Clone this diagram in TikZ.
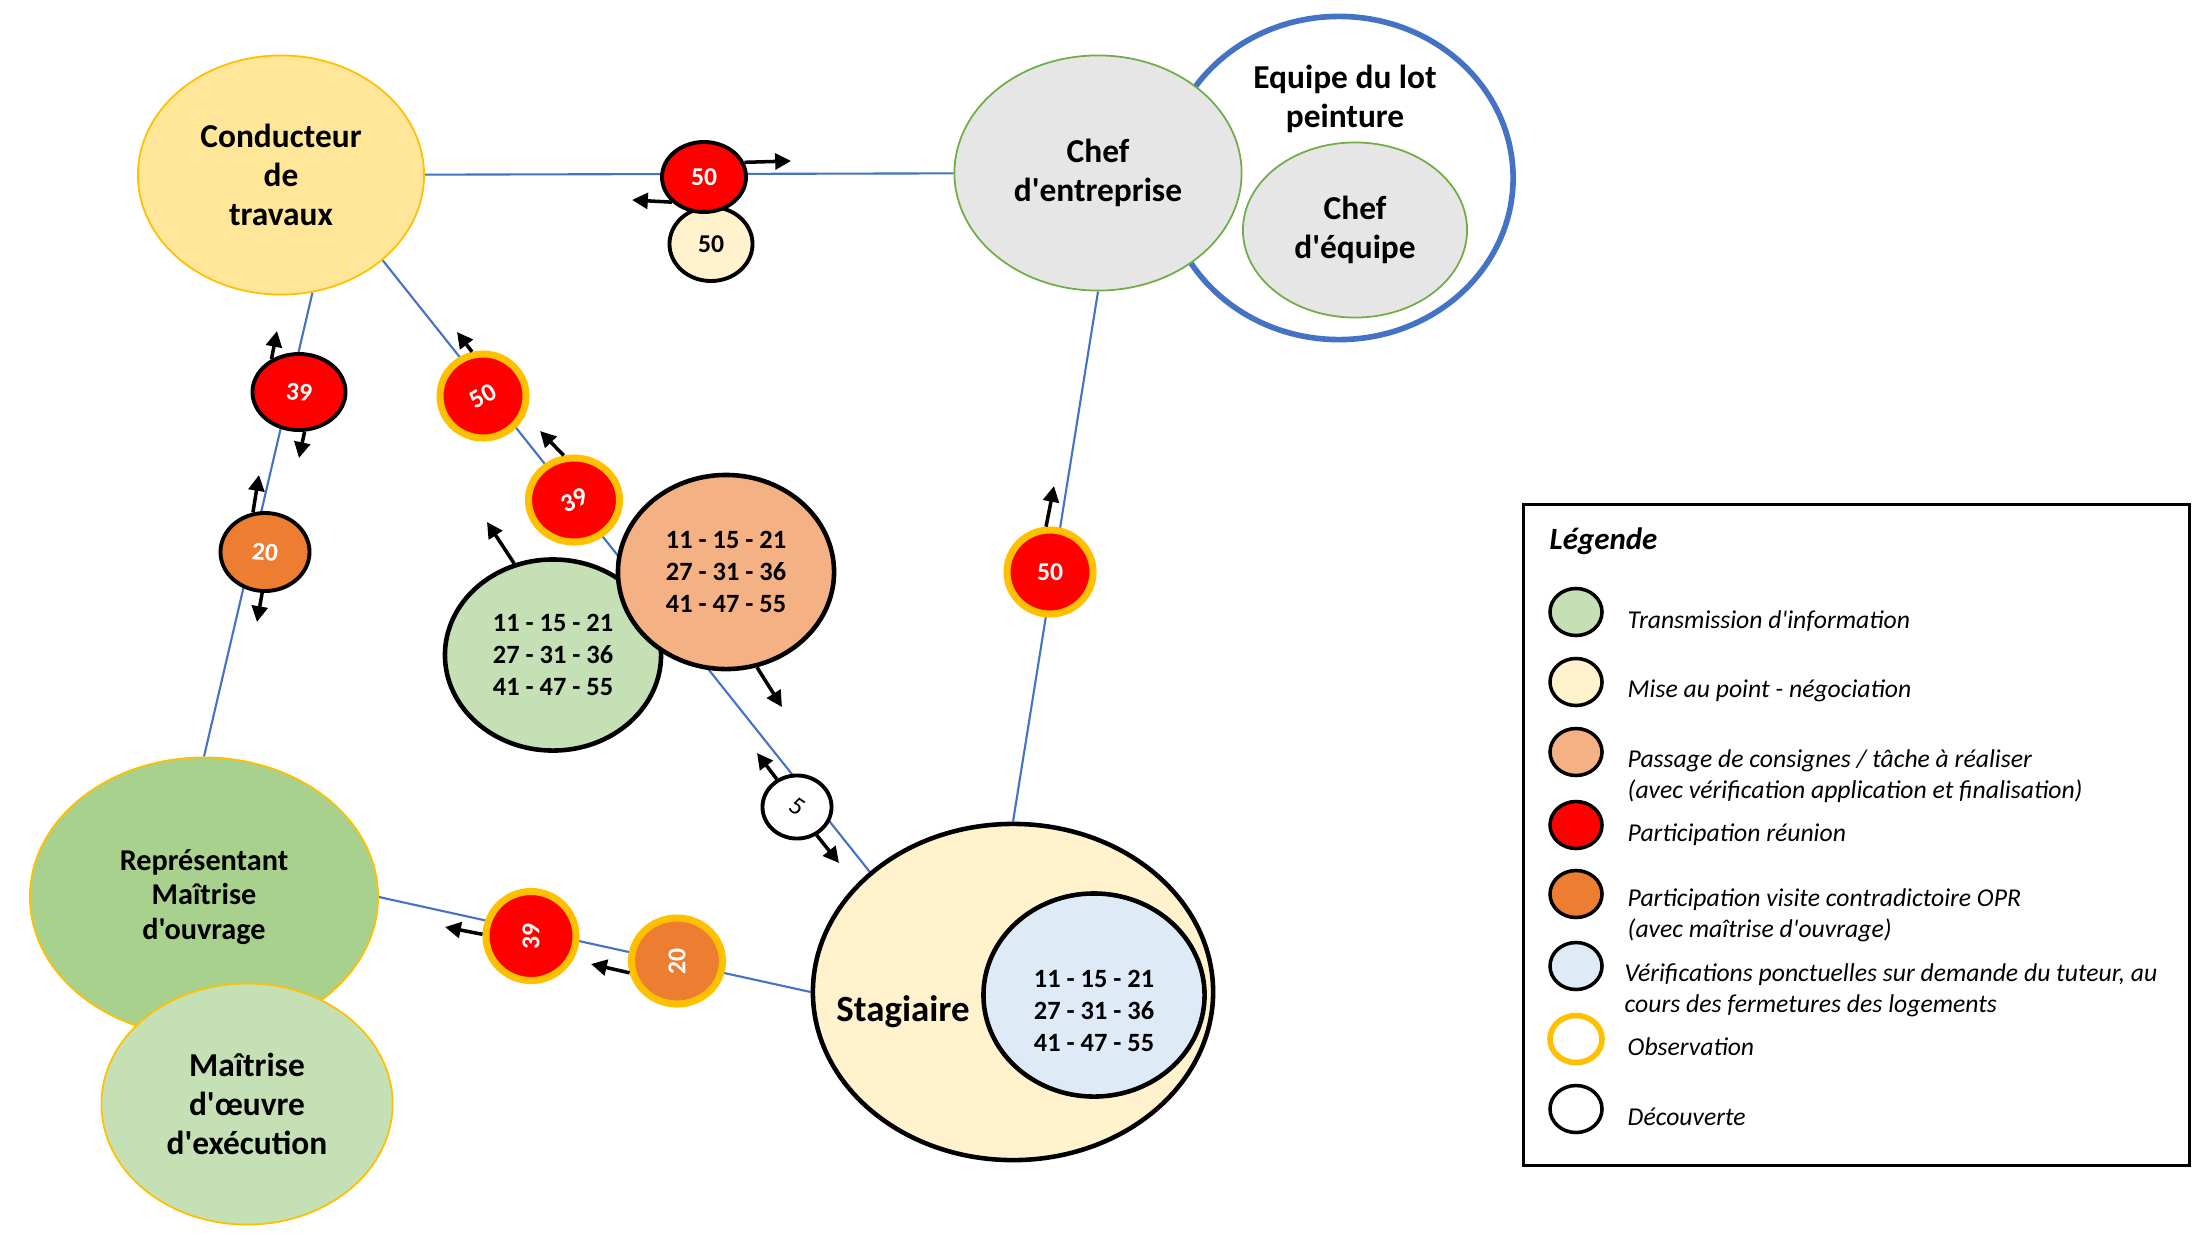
\documentclass[tikz,border=0pt]{standalone}
\usepackage{fontspec}
\setmainfont{Carlito}[Ligatures=TeXOff]
\usepackage{graphicx}
\usetikzlibrary{shapes.geometric, arrows.meta, backgrounds}

\definecolor{jauneC}{HTML}{FFE699}
\definecolor{jauneB}{HTML}{FFC000}
\definecolor{grisC}{HTML}{E7E6E6}
\definecolor{vertB}{HTML}{70AD47}
\definecolor{bleuL}{HTML}{4472C4}
\definecolor{vertMO}{HTML}{A9D18E}
\definecolor{vertC}{HTML}{C5E0B4}
\definecolor{creme}{HTML}{FFF2CC}
\definecolor{bleuC}{HTML}{DEEBF7}
\definecolor{saumon}{HTML}{F4B183}
\definecolor{rouge}{HTML}{FF0000}
\definecolor{orangeF}{HTML}{ED7D31}

\begin{document}
\begin{tikzpicture}[x=0.01cm, y=-0.01cm, >={Triangle[length=4.5pt,width=4.5pt]},
  acteur/.style={ellipse, draw, line width=0.5pt, align=center, inner sep=0pt, font=\fontsize{9.5}{11.1}\selectfont\bfseries},
  bulle/.style={ellipse, draw, line width=1.3pt, align=center, inner sep=0pt, font=\fontsize{7.5}{9.1}\selectfont\bfseries},
  pastille/.style={ellipse, draw, line width=1.1pt, inner sep=0pt, text=white, font=\fontsize{7.3}{9}\selectfont\bfseries},
  obs/.style={pastille, draw=jauneB, line width=2pt},
  lien/.style={draw=bleuL, line width=0.6pt},
  fleche/.style={->, line width=1pt},
  leg/.style={ellipse, draw, line width=1pt, minimum width=0.52cm, minimum height=0.47cm, inner sep=0pt},
  legtxt/.style={anchor=west, align=left, inner sep=0pt, font=\fontsize{7.3}{8.8}\selectfont\itshape}]
\useasboundingbox (0,0) rectangle (2192,1236);

\node[ellipse, draw=bleuL, line width=1.6pt, fill=white, minimum width=3.48cm, minimum height=3.23cm] (equipe) at (1339,178) {};
\node[acteur, draw=none] (equipeTxt) at (1345,99) {Equipe du lot\\peinture};
\node[acteur, fill=grisC, draw=vertB, minimum width=2.87cm, minimum height=2.35cm] (chefE) at (1098,173) {Chef\\d'entreprise};
\node[acteur, fill=grisC, draw=vertB, minimum width=2.24cm, minimum height=1.75cm] (chefEq) at (1355,230) {Chef\\d'équipe};
\node[acteur, fill=jauneC, draw=jauneB, minimum width=2.86cm, minimum height=2.39cm] (cond) at (281,175) {Conducteur\\de\\travaux};
\node[acteur, fill=vertMO, draw=jauneB, minimum width=3.48cm, minimum height=2.79cm, font=\fontsize{8.6}{9.8}\selectfont\bfseries] (rep) at (204,897) {Représentant\\Maîtrise\\d'ouvrage};
\node[acteur, fill=vertC, draw=jauneB, minimum width=2.91cm, minimum height=2.41cm] (moe) at (247,1104) {Maîtrise\\d'\oe uvre\\d'exécution};
\node[bulle, fill=creme, minimum width=4.0cm, minimum height=3.36cm] (stag) at (1013,992) {};
\node[acteur, draw=none, font=\fontsize{10.5}{12}\selectfont\bfseries] (stagTxt) at (903,1012) {Stagiaire};
\node[bulle, fill=bleuC, minimum width=2.21cm, minimum height=2.03cm] (verif) at (1094,995) {};
\node[bulle, draw=none] (verifTxt) at (1094,1011) {11 - 15 - 21\\27 - 31 - 36\\41 - 47 - 55};
\node[bulle, fill=vertC, minimum width=2.16cm, minimum height=1.91cm] (transm) at (553,655) {11 - 15 - 21\\27 - 31 - 36\\41 - 47 - 55};
\node[bulle, fill=saumon, minimum width=2.16cm, minimum height=1.94cm] (consigne) at (726,572) {11 - 15 - 21\\27 - 31 - 36\\41 - 47 - 55};

\begin{pgfonlayer}{background}
\draw[lien] (cond) -- (chefE);
\draw[lien] (cond.-75) -- (rep.north);
\draw[lien] (cond.-40) -- (stag.140);
\draw[lien] (chefE.south) -- (stag.north);
\draw[lien] (rep.east) -- (stag.west);
\end{pgfonlayer}

\node[pastille, fill=creme, text=black, minimum width=0.83cm, minimum height=0.74cm] (n50b) at (711,244) {50};
\node[pastille, fill=rouge, minimum width=0.84cm, minimum height=0.70cm] (r50a) at (704,177) {50};
\node[pastille, fill=rouge, minimum width=0.93cm, minimum height=0.76cm] (r39a) at (299,392) {\rotatebox{-5}{39}};
\node[pastille, fill=orangeF, minimum width=0.89cm, minimum height=0.78cm] (o20a) at (265,552) {\rotatebox{-5}{20}};
\node[obs, fill=rouge, minimum width=0.86cm, minimum height=0.84cm] (r50b) at (483,396) {\rotatebox{30}{50}};
\node[obs, fill=rouge, minimum width=0.91cm, minimum height=0.84cm] (r39b) at (574,500) {\rotatebox{25}{39}};
\node[pastille, fill=white, text=black, font=\fontsize{7.3}{9}\selectfont, minimum width=0.69cm, minimum height=0.63cm] (d5) at (797,807) {\rotatebox{-35}{5}};
\node[obs, fill=rouge, minimum width=0.86cm, minimum height=0.84cm] (r50c) at (1050,572) {50};
\node[obs, fill=rouge, minimum width=0.90cm, minimum height=0.89cm] (r39c) at (531,936) {\rotatebox{90}{39}};
\node[obs, fill=orangeF, minimum width=0.91cm, minimum height=0.86cm] (o20b) at (677,961) {\rotatebox{90}{20}};

\coordinate (f1) at (791,161);
\coordinate (f2) at (632,200);
\coordinate (f3) at (277,331);
\coordinate (f4) at (299,458);
\coordinate (f5) at (259,475);
\coordinate (f6) at (257,622);
\coordinate (f7) at (457,332);
\coordinate (f8) at (540,431);
\coordinate (f9) at (487,522);
\coordinate (f10) at (782,707);
\coordinate (f11) at (757,753);
\coordinate (f12) at (839,863);
\coordinate (f13) at (1054,486);
\coordinate (f14) at (445,927);
\coordinate (f15) at (591,964);
\draw[fleche] (r50a.20) -- (f1);
\draw[fleche] (r50a.218) -- (f2);
\draw[fleche] (r39a.130) -- (f3);
\draw[fleche] (r39a.-82) -- (f4);
\draw[fleche] (o20a.107) -- (f5);
\draw[fleche] (o20a.-94) -- (f6);
\draw[fleche] (r50b.104) -- (f7);
\draw[fleche] (r39b.103) -- (f8);
\draw[fleche] (transm.113) -- (f9);
\draw[fleche] (consigne.-72) -- (f10);
\draw[fleche] (d5.126) -- (f11);
\draw[fleche] (d5.-55) -- (f12);
\draw[fleche] (r50c.95) -- (f13);
\draw[fleche] (r39c.178) -- (f14);
\draw[fleche] (o20b.194) -- (f15);

\node[draw, line width=0.8pt, minimum width=6.66cm, minimum height=6.61cm, anchor=north west, inner sep=0pt] (legende) at (1522,503) {};
\node[anchor=west, inner sep=0pt, font=\fontsize{8.8}{10}\selectfont\bfseries\itshape] (legTitre) at (1549,541) {Légende};
\node[leg, fill=vertC] (l1) at (1576,612) {};
\node[leg, fill=creme] (l2) at (1576,682) {};
\node[leg, fill=saumon] (l3) at (1576,752) {};
\node[leg, fill=rouge] (l4) at (1576,825) {};
\node[leg, fill=orangeF] (l5) at (1576,894) {};
\node[leg, fill=bleuC] (l6) at (1576,966) {};
\node[leg, draw=jauneB, line width=1.6pt, fill=white] (l7) at (1576,1039) {};
\node[leg, fill=white] (l8) at (1576,1109) {};
\node[legtxt] (t1) at (1627,621) {Transmission d'information};
\node[legtxt] (t2) at (1627,691) {Mise au point - négociation};
\node[legtxt] (t3) at (1627,776) {Passage de consignes / tâche à réaliser\\(avec vérification application et finalisation)};
\node[legtxt] (t4) at (1627,835) {Participation réunion};
\node[legtxt] (t5) at (1627,915) {Participation visite contradictoire OPR\\(avec maîtrise d'ouvrage)};
\node[legtxt] (t6) at (1624,990) {Vérifications ponctuelles sur demande du tuteur, au\\cours des fermetures des logements};
\node[legtxt] (t7) at (1627,1047) {Observation};
\node[legtxt] (t8) at (1627,1117) {Découverte};
\end{tikzpicture}
\end{document}
